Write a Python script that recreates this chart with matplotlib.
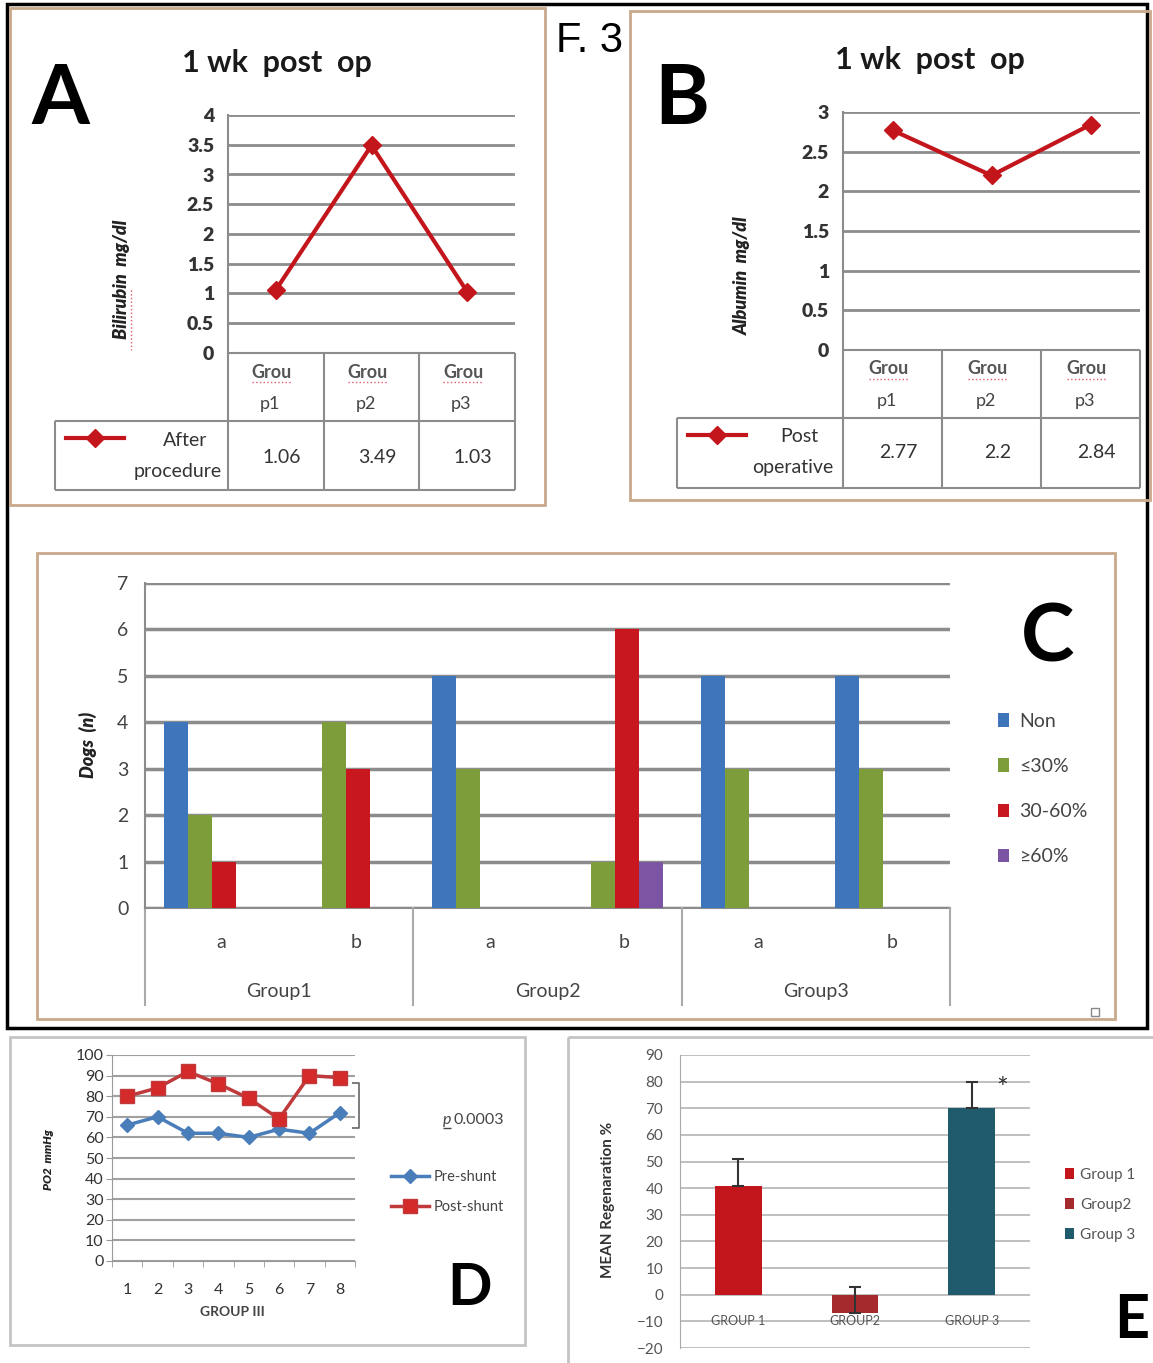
import numpy as np
import matplotlib.pyplot as plt
from matplotlib.patches import Rectangle

plt.rcParams['font.family'] = ['Lato', 'DejaVu Sans']

W, H = 1153, 1363

# panels A and B
ab_groups = ['Group1', 'Group2', 'Group3']
bilirubin = [1.06, 3.49, 1.03]
albumin = [2.77, 2.2, 2.84]

# panel C
c_groups = ['Group1', 'Group2', 'Group3']
c_subs = ['a', 'b', 'a', 'b', 'a', 'b']
c_series = ['Non', '≤30%', '30-60%', '≥60%']
c_non = [4, 0, 5, 0, 5, 5]
c_le30 = [2, 4, 3, 1, 3, 3]
c_30_60 = [1, 3, 0, 6, 0, 0]
c_ge60 = [0, 0, 0, 1, 0, 0]

# panel D
d_x = [1, 2, 3, 4, 5, 6, 7, 8]
pre_shunt = [66, 70, 62, 62, 60, 64, 62, 72]
post_shunt = [80, 84, 92, 86, 79, 69, 90, 89]

# panel E
e_groups = ['Group 1', 'Group2', 'Group 3']
e_mean = [41, -7, 70]
e_err = [10, 10, 10]

RED = '#c3161c'
GRID = '#8c8c8c'

fig = plt.figure(figsize=(W / 100, H / 100), dpi=100)


def px_axes(x0, y0, x1, y1):
    ax = fig.add_axes([x0 / W, 1 - y1 / H, (x1 - x0) / W, (y1 - y0) / H])
    ax.set_facecolor('none')
    return ax


bg = px_axes(0, 0, W, H)
bg.set_xlim(0, W)
bg.set_ylim(H, 0)
bg.axis('off')


def box(x0, y0, x1, y1, color, lw):
    bg.add_patch(Rectangle((x0, y0), x1 - x0, y1 - y0, fill=False,
                           edgecolor=color, lw=lw))


def seg(xs, ys, color=GRID, lw=1.5, ls='-'):
    bg.plot(xs, ys, color=color, lw=lw, ls=ls, solid_capstyle='butt')


# frames
box(7, 4, 1147, 1028, 'black', 2.5)
box(10, 8, 545, 505, '#c9a98c', 2)
box(630, 11, 1150, 500, '#c9a98c', 2)
box(37, 553, 1115, 1019, '#c9a98c', 2)
box(1091, 1008, 1099, 1016, '#888888', 1)
box(10, 1037, 525, 1345, '#c4c4c4', 2)
box(568, 1037, 1160, 1372, '#c4c4c4', 2)

bg.text(590, 52, 'F. 3', fontsize=30, family='Liberation Sans', ha='center', va='baseline')


def draw_ab(vals, ymax, L, T, R, B, row1, row2, leg_left, ylab, ylab_x,
            words, word_xy, val_dy, letter, letter_x, title_xy):
    ax = px_axes(L, T, R, B)
    x = np.arange(len(vals))
    ln, = ax.plot(x, vals, color=RED, lw=3, marker='D', ms=9, zorder=3)
    ax.set_xlim(-0.5, len(vals) - 0.5)
    ax.set_ylim(0, ymax)
    ticks = np.arange(0, ymax + 0.01, 0.5)
    ax.set_yticks(ticks)
    ax.set_yticklabels([f'{t:g}' for t in ticks], fontsize=14,
                       fontweight='heavy', color='#333333')
    ax.tick_params(axis='y', length=0, pad=10)
    ax.set_xticks([])
    ax.yaxis.grid(True, color=GRID, lw=2)
    ax.set_axisbelow(True)
    for s in ['top', 'right', 'bottom']:
        ax.spines[s].set_visible(False)
    ax.spines['left'].set_color(GRID)
    ax.spines['left'].set_linewidth(1.5)

    n = len(vals)
    cw = (R - L) / n
    seg([L, R], [B, B])
    for k in range(n + 1):
        seg([L + k * cw] * 2, [B, row2])
    seg([leg_left, R], [row1, row1])
    seg([leg_left, R], [row2, row2])
    seg([leg_left, leg_left], [row1, row2])
    for k, g in enumerate(ab_groups):
        cx = L + (k + 0.5) * cw
        bg.text(cx - 4, B + 19, g[:4], ha='center', va='center', fontsize=13,
                fontweight='bold', color='#555555')
        seg([cx - 24, cx + 16], [B + 29, B + 29], color='#e05a6a', lw=1, ls=':')
        bg.text(cx - 6, B + 51, g[4:], ha='center', va='center', fontsize=13,
                color='#444444')
        bg.text(cx + 6, (row1 + row2) / 2 + val_dy, f'{vals[k]:g}', ha='center',
                va='center', fontsize=14, color='#333333')
    for w, (wx, wy) in zip(words, word_xy):
        bg.text(wx, wy, w, ha='right', va='center', fontsize=14, color='#333333')
    ax.legend([ln], [''], loc='center left',
              bbox_to_anchor=((leg_left + 2) / W, 1 - (row1 + 18) / H),
              bbox_transform=fig.transFigure, frameon=False, handlelength=3.2,
              fontsize=13, borderpad=0, handletextpad=0)
    bg.text(ylab_x, (T + B) / 2 + 45, ylab, rotation=90, ha='center', va='center',
            fontsize=13, fontstyle='italic', fontweight='heavy', color='#222222')
    bg.text(letter_x, 124, letter, fontsize=60, fontweight='bold', ha='center',
            va='baseline')
    bg.text(title_xy[0], title_xy[1], '1 wk  post  op', fontsize=22,
            fontweight='bold', ha='center', va='baseline', color='#1a1a1a')
    return ax


draw_ab(bilirubin, 4, 228, 115, 515, 353, 421, 490, 55, 'Bilirubin  mg/dl', 122,
        ['After', 'procedure'], [(207, 441), (222, 471)], 2, 'A', 60, (277, 72))
seg([131, 131], [290, 350], color='#e05a6a', lw=1, ls=':')
draw_ab(albumin, 3, 843, 112, 1140, 350, 418, 488, 677, 'Albumin  mg/dl', 742,
        ['Post', 'operative'], [(818, 437), (833, 467)], 0, 'B', 682, (930, 69))

# panel C
axC = px_axes(145, 583, 950, 908)
xc = np.arange(len(c_subs))
bw = 0.179
c_colors = ['#3f75bb', '#7d9c3a', '#c8171f', '#7b55a3']
for i, (vals, col, lab) in enumerate(zip([c_non, c_le30, c_30_60, c_ge60],
                                          c_colors, c_series)):
    axC.bar(xc + (i - 1.5) * bw, vals, bw, color=col, label=lab, zorder=3)
axC.set_xlim(-0.5, len(c_subs) - 0.5)
axC.set_ylim(0, 7)
axC.set_yticks(range(8))
axC.tick_params(axis='y', length=0, pad=12, labelsize=14, labelcolor='#444444')
axC.set_xticks([])
axC.yaxis.grid(True, color=GRID, lw=2.5)
axC.set_axisbelow(True)
for s in ['top', 'right', 'bottom']:
    axC.spines[s].set_visible(False)
axC.spines['left'].set_color(GRID)
axC.spines['left'].set_linewidth(1.5)
tr = axC.get_xaxis_transform()
axC.plot([-0.5, len(c_subs) - 0.5], [0, 0], transform=tr, color=GRID, lw=1.5,
         clip_on=False)
for k in range(len(c_groups) + 1):
    axC.plot([2 * k - 0.5] * 2, [0, -0.298], transform=tr, color='#aaaaaa',
             lw=1.5, clip_on=False)
for x, s in zip(xc, c_subs):
    axC.text(x + 0.07, -0.105, s, transform=tr, ha='center', va='center',
             fontsize=14, color='#444444')
for k, g in enumerate(c_groups):
    axC.text(2 * k + 0.5, -0.258, g, transform=tr, ha='center', va='center',
             fontsize=14, color='#444444')
axC.legend(loc='upper left', bbox_to_anchor=(988 / W, 1 - 703 / H),
           bbox_transform=fig.transFigure, frameon=False, fontsize=14,
           handlelength=0.6, handleheight=0.7, labelspacing=1.45,
           handletextpad=0.5, labelcolor='#444444', borderpad=0)
bg.text(88, 745, 'Dogs  (n)', rotation=90, ha='center', va='center', fontsize=13,
        fontstyle='italic', fontweight='heavy', color='#222222')
bg.text(1048, 661, 'C', fontsize=58, fontweight='bold', ha='center', va='baseline')

# panel D
axD = px_axes(112, 1055, 355, 1261)
axD.plot(d_x, pre_shunt, color='#4a7ebb', lw=2.5, marker='D', ms=7,
         label='Pre-shunt', zorder=3)
axD.plot(d_x, post_shunt, color='#c0393b', lw=2.5, marker='s', ms=10,
         markerfacecolor='#d42a2a', label='Post-shunt', zorder=3)
axD.set_xlim(0.5, len(d_x) + 0.5)
axD.set_ylim(0, 100)
axD.set_yticks(range(0, 101, 10))
axD.set_xticks(d_x)
axD.set_xticks(np.arange(0.5, len(d_x) + 0.6, 1), minor=True)
axD.tick_params(axis='y', length=4, color='#999999', pad=2, labelsize=11.5,
                labelcolor='#333333')
axD.tick_params(axis='x', which='major', length=0, pad=16, labelsize=11.5,
                labelcolor='#333333')
axD.tick_params(axis='x', which='minor', length=4, color='#999999')
axD.yaxis.grid(True, color='#a0a0a0', lw=1.5)
axD.set_axisbelow(True)
for s in ['top', 'right']:
    axD.spines[s].set_visible(False)
for s in ['left', 'bottom']:
    axD.spines[s].set_color('#999999')
axD.legend(loc='upper left', bbox_to_anchor=(384 / W, 1 - 1163 / H),
           bbox_transform=fig.transFigure, frameon=False, fontsize=10.5,
           handlelength=2.6, labelspacing=1.1, handletextpad=0.3,
           labelcolor='#444444', borderpad=0)
bg.text(232, 1312, 'GROUP III', ha='center', va='center', fontsize=10,
        fontweight='bold', color='#444444')
bg.text(48, 1160, 'PO2  mmHg', rotation=90, ha='center', va='center', fontsize=8.5,
        fontstyle='italic', fontweight='heavy', color='#222222')
seg([352, 359, 359, 352], [1083, 1083, 1128, 1128], color='#666666', lw=1.2)
bg.text(451, 1120, 'p', ha='right', va='center', fontsize=11.5, fontstyle='italic',
        color='#444444')
seg([443, 451], [1128, 1128], color='#444444', lw=1)
bg.text(453, 1120, '0.0003', ha='left', va='center', fontsize=11.5, color='#444444')
bg.text(470, 1305, 'D', fontsize=42, fontweight='bold', ha='center', va='baseline')

# panel E
axE = px_axes(680, 1055, 1030, 1348)
xe = np.arange(len(e_groups))
e_colors = ['#c3161c', '#a52a2e', '#1f5b6c']
bars = axE.bar(xe, e_mean, 0.4, color=e_colors, zorder=3)
axE.errorbar(xe, e_mean, yerr=[np.zeros(len(e_err)), e_err], fmt='none',
             ecolor='#333333', elinewidth=1.5, capsize=4, capthick=1.5, zorder=4)
axE.set_xlim(-0.5, len(e_groups) - 0.5)
axE.set_ylim(-20, 90)
axE.set_yticks(range(-20, 91, 10))
axE.tick_params(axis='y', length=0, pad=12, labelsize=11, labelcolor='#555555')
axE.set_xticks([])
axE.yaxis.grid(True, color='#b4b4b4', lw=1.2)
axE.set_axisbelow(True)
for s in ['top', 'right', 'bottom']:
    axE.spines[s].set_visible(False)
axE.spines['left'].set_color('#aaaaaa')
for x, g in zip(xe, e_groups):
    axE.text(x, -10, g.upper(), ha='center', va='center', fontsize=9,
             color='#555555')
axE.annotate('*', (xe[2], e_mean[2] + e_err[2]), xytext=(22, -6),
             textcoords='offset points', ha='center', va='center', fontsize=20,
             color='#333333')
axE.legend(bars.patches, e_groups, loc='upper left',
           bbox_to_anchor=(1057 / W, 1 - 1160 / H), bbox_transform=fig.transFigure,
           frameon=False, fontsize=11, handlelength=0.6, handleheight=0.7,
           labelspacing=1.05, handletextpad=0.4, labelcolor='#555555', borderpad=0)
bg.text(608, 1200, 'MEAN Regenaration %', rotation=90, ha='center', va='center',
        fontsize=11, fontweight='bold', color='#333333')
bg.text(1132, 1338, 'E', fontsize=44, fontweight='bold', ha='center', va='baseline')

fig.savefig('out.png', dpi=100, facecolor='white')
